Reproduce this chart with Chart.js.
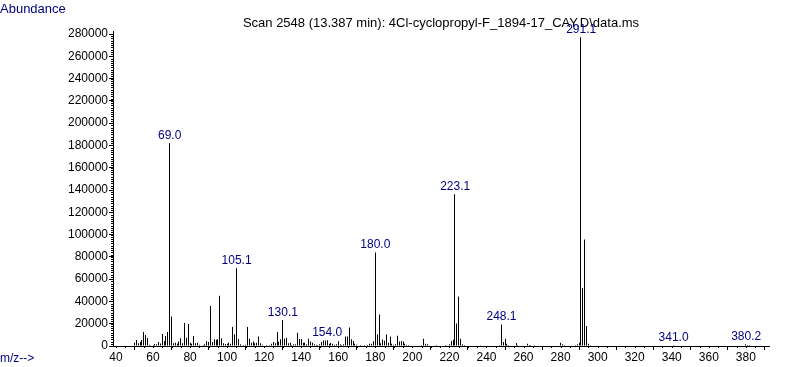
<!DOCTYPE html>
<html><head><meta charset="utf-8">
<script src="https://cdn.jsdelivr.net/npm/chart.js@4"></script>
<style>html,body{margin:0;padding:0;background:#fff;}#wrap{width:787px;height:367px;position:relative;}</style>
</head><body><div id="wrap"><canvas id="c" width="787" height="367"></canvas></div>
<script>
const titleText = 'Scan 2548 (13.387 min): 4Cl-cyclopropyl-F_1894-17_CAY.D\\data.ms';
const yAxisTitle = 'Abundance';
const xAxisTitle = 'm/z-->';

const mzValues = [50,51,52,53,54,55,56,57,58,60,61,62,63,64,65,66,67,68,69,70,71,72,73,74,75,76,77,78,79,80,81,82,83,84,85,87,88,89,90,91,92,93,94,95,96,97,98,99,100,101,102,103,104,105,106,107,109,110,111,112,113,114,115,116,117,118,119,121,123,124,125,126,127,128,129,130,131,132,133,134,135,136,137,138,139,140,141,142,143,144,145,146,147,148,149,150,151,152,153,154,155,156,157,158,159,160,161,162,163,164,165,166,167,168,169,170,172,174,176,177,178,179,180,181,182,183,184,185,186,187,188,189,190,191,192,193,194,195,196,197,198,205,206,207,208,213,218,220,221,222,223,224,225,226,227,228,237,247,248,249,250,251,252,256,257,262,263,264,266,280,281,282,288,289,290,291,292,293,294,295,296,341,380,381,382];
const abundances = [3000,5400,2400,3600,5400,12600,9900,7200,1200,1000,1700,1500,3600,2300,10800,4500,9000,12600,182000,26500,2400,3000,2000,4000,6900,2400,20600,7500,19700,3000,2000,9000,2400,3000,1200,1000,1500,4500,3600,35900,3600,6000,5700,6000,45000,7000,2400,1800,2000,3000,2000,17000,10500,69700,6300,1500,1000,1200,17000,6600,3000,4000,2500,3000,8500,2400,1200,800,1000,2000,3600,2400,12500,3900,6000,23300,6600,7500,2400,3000,1000,1500,1500,12000,6300,6300,3000,3000,1500,6500,4000,3000,1500,1200,800,1500,3600,5000,5000,5200,2000,2700,2000,1200,1500,4200,1500,1000,1500,8500,8500,16500,6000,4500,2000,1200,1000,800,1000,2000,2000,4200,84000,10500,28200,2500,5800,4700,10300,3000,8500,2000,1200,1500,9200,4000,4500,4000,2000,1200,800,1000,6500,2000,1500,800,800,1500,4500,5600,136100,20300,44500,6500,1500,800,600,800,19300,3500,6500,2000,800,2700,1000,2000,1000,1000,600,3000,1500,1000,800,1500,3000,277000,52000,95500,18000,2000,800,600,1600,800,900];

const peakLabels = ['69.0','105.1','130.1','154.0','180.0','223.1','248.1','291.1','341.0','380.2'];
const xTickValues = [40,60,80,100,120,140,160,180,200,220,240,260,280,300,320,340,360,380];
const yTickValues = [0,20000,40000,60000,80000,100000,120000,140000,160000,180000,200000,220000,240000,260000,280000];

const NAVY = '#000080';
const FAMILY = '"Liberation Sans", Arial, sans-serif';

function abundanceAt(m){
  const i = mzValues.indexOf(Math.round(m));
  return i >= 0 ? abundances[i] : 0;
}

const textPlugin = {
  id: 'texts',
  beforeDatasetsDraw(chart){
    // snap the library-computed bar positions to the pixel grid for crisp 1px sticks
    chart.getDatasetMeta(0).data.forEach(el => { el.x = Math.floor(el.x) + 0.5; });
    const ctx = chart.ctx, a = chart.chartArea;
    ctx.save();
    ctx.textBaseline = 'middle';
    ctx.fillStyle = '#000';
    ctx.textAlign = 'center';
    ctx.font = '13px ' + FAMILY;
    ctx.fillText(titleText, (a.left + a.right) / 2, 23);
    ctx.fillStyle = NAVY;
    ctx.textAlign = 'left';
    ctx.fillText(yAxisTitle, 0, 9);
    ctx.font = '12px ' + FAMILY;
    ctx.fillText(xAxisTitle, 0, 359);
    ctx.restore();
  },
  afterDatasetsDraw(chart){
    const ctx = chart.ctx, xs = chart.scales.x, ys = chart.scales.y;
    ctx.save();
    ctx.font = '12px ' + FAMILY;
    ctx.fillStyle = NAVY;
    ctx.textAlign = 'center';
    ctx.textBaseline = 'alphabetic';
    peakLabels.forEach(t => {
      const m = parseFloat(t);
      const px = xs.getPixelForValue(m);
      const py = ys.getPixelForValue(abundanceAt(m));
      ctx.fillText(t, px, py - 4);
    });
    // minor ticks
    ctx.strokeStyle = '#000';
    ctx.lineWidth = 1;
    ctx.beginPath();
    for (let v = 0; v <= 280000; v += 2000) {
      const y = Math.round(ys.getPixelForValue(v)) + 0.5;
      ctx.moveTo(111, y); ctx.lineTo(113, y);
    }
    for (let v = 40; v <= 390; v += 5) {
      const x = Math.round(xs.getPixelForValue(v)) + 0.5;
      ctx.moveTo(x, ys.bottom); ctx.lineTo(x, ys.bottom + 2);
    }
    ctx.stroke();
    ctx.restore();
  }
};

new Chart(document.getElementById('c'), {
  type: 'bar',
  data: {
    datasets: [{
      data: mzValues.map((m, i) => ({ x: m, y: abundances[i] })),
      backgroundColor: '#000',
      borderWidth: 0,
      barThickness: 1,
      inflateAmount: 0
    }]
  },
  options: {
    responsive: false,
    animation: false,
    devicePixelRatio: 1,
    layout: { padding: { top: 31, right: 18, left: 0, bottom: 0 } },
    plugins: { legend: { display: false }, tooltip: { enabled: false }, title: { display: false } },
    scales: {
      x: {
        type: 'linear', min: 38.4, max: 392.5, offset: false,
        afterFit: s => { s.height = 21; },
        afterBuildTicks: s => { s.ticks = xTickValues.map(v => ({ value: v })); },
        grid: { drawOnChartArea: false, drawTicks: true, tickLength: 4, tickColor: '#000' },
        border: { display: true, color: '#000', width: 1 },
        ticks: { color: '#000', font: { family: FAMILY, size: 12 }, padding: 0, maxRotation: 0, autoSkip: false, callback: v => String(v) }
      },
      y: {
        min: 0, max: 282700,
        afterFit: s => { s.width = 113; },
        afterBuildTicks: s => { s.ticks = yTickValues.map(v => ({ value: v })); },
        grid: { drawOnChartArea: false, drawTicks: true, tickLength: 4, tickColor: '#000' },
        border: { display: true, color: '#000', width: 1 },
        ticks: { color: '#000', font: { family: FAMILY, size: 12 }, padding: 1, callback: v => String(v) }
      }
    }
  },
  plugins: [textPlugin]
});
</script></body></html>
